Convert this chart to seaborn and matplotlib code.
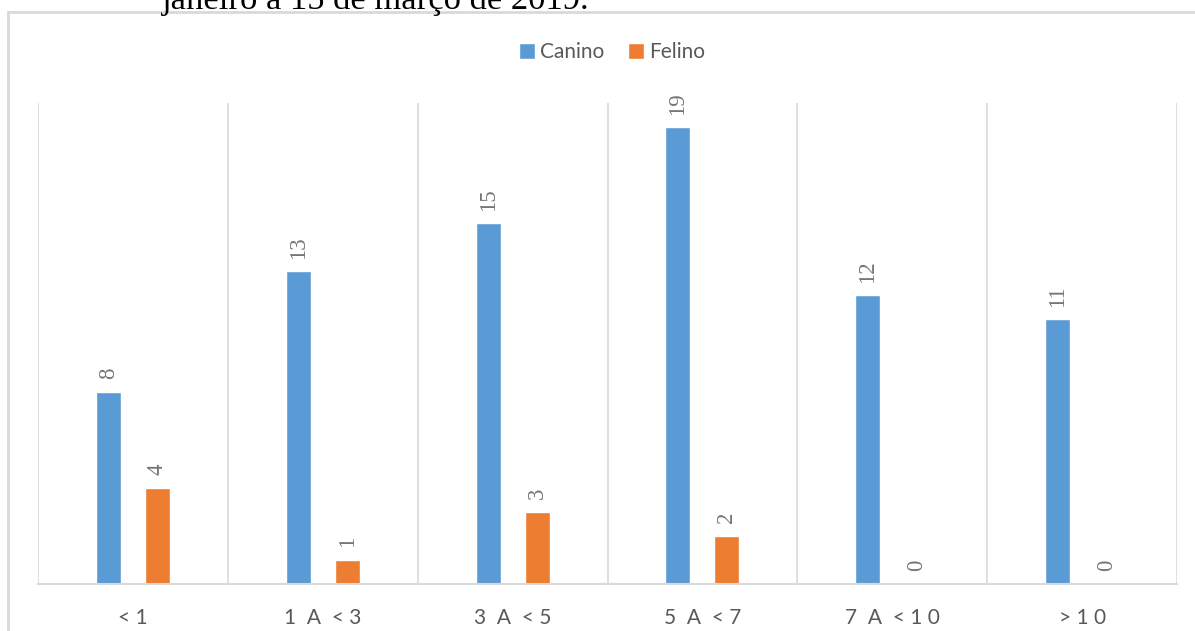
import matplotlib
matplotlib.use("Agg")
import matplotlib.pyplot as plt
from matplotlib.lines import Line2D
import seaborn as sns
import pandas as pd

# Age groups (years) and number of animals per species
faixas = ["< 1", "1  A  < 3", "3  A  < 5", "5  A  < 7", "7  A  < 1 0", "> 1 0"]
canino = [8, 13, 15, 19, 12, 11]
felino = [4, 1, 3, 2, 0, 0]
especies = ["Canino", "Felino"]
cores = ["#5B9BD5", "#ED7D31"]

df = pd.DataFrame({
    "faixa": faixas * 2,
    "especie": [especies[0]] * len(faixas) + [especies[1]] * len(faixas),
    "n": canino + felino,
})

sns.set_theme(style="white")
plt.rcParams["font.family"] = ["Lato", "DejaVu Sans"]

fig = plt.figure(figsize=(11.95, 6.31), dpi=100)
ax = fig.add_axes([0.0318, 0.0745, 0.9532, 0.7623])

sns.barplot(data=df, x="faixa", y="n", hue="especie", palette=cores,
            saturation=1, width=0.516, gap=0.49, ax=ax, legend=True)

grid = "#D9D9D9"
ax.set_ylim(0, 20)
ax.set_xlim(-0.5, len(faixas) - 0.5)
for xb in [i + 0.5 for i in range(-1, len(faixas))]:
    ax.axvline(xb, color=grid, lw=1.2, zorder=0)
for s in ["top", "left", "right"]:
    ax.spines[s].set_visible(False)
ax.spines["bottom"].set_color(grid)
ax.spines["bottom"].set_linewidth(1.5)
ax.set_yticks([])
ax.set_xlabel("")
ax.set_ylabel("")
ax.tick_params(axis="x", length=0, pad=17, labelsize=15, labelcolor="#595959")

for cont in ax.containers:
    ax.bar_label(cont, rotation=90, padding=9, fontsize=16.5,
                 color="#767676", family="Liberation Serif")

handles, labels = ax.get_legend_handles_labels()
ax.legend(handles, labels, ncol=2, loc="center",
          bbox_to_anchor=(612 / 1195, 1 - 52 / 631),
          bbox_transform=fig.transFigure, frameon=False,
          handlelength=0.8, handleheight=0.8, handletextpad=0.25,
          columnspacing=1.1, fontsize=15, labelcolor="#595959")

# Outer frame of the chart area
fig.add_artist(Line2D([8 / 1195, 8 / 1195], [0, 1 - 12 / 631],
                      transform=fig.transFigure, color="#D9D9D9", lw=2))
fig.add_artist(Line2D([8 / 1195, 1], [1 - 12 / 631, 1 - 12 / 631],
                      transform=fig.transFigure, color="#D9D9D9", lw=2))

# Caption line above the chart
fig.text(162 / 1195, 1 - 9 / 631, "janeiro a 15 de março de 2019.",
         family="Liberation Serif", fontsize=24.8, color="black",
         ha="left", va="baseline")

fig.savefig("out.png", dpi=100)
